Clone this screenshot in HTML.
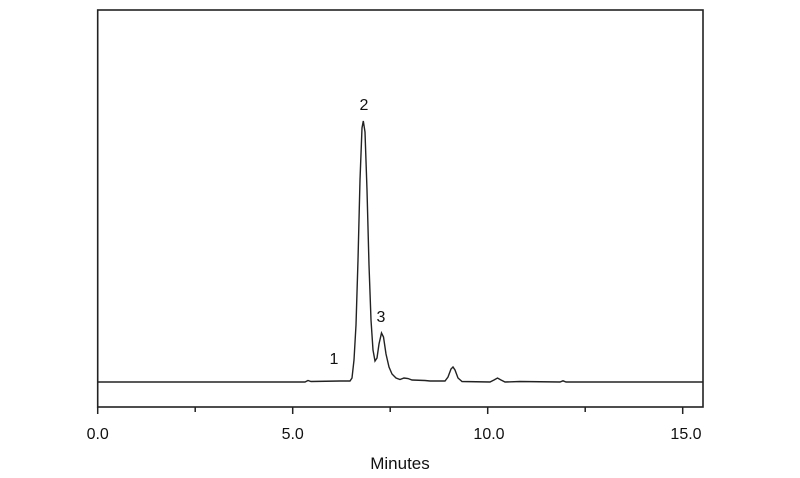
<!DOCTYPE html>
<html><head><meta charset="utf-8"><style>body{margin:0;background:#fff}svg{display:block}</style></head>
<body>
<svg width="800" height="478" viewBox="0 0 800 478" xmlns="http://www.w3.org/2000/svg">
<rect width="800" height="478" fill="#fff"/>
<rect x="97.7" y="10" width="605.3" height="397" fill="none" stroke="#222" stroke-width="1.6"/>
<g stroke="#222" stroke-width="1.5">
<line x1="97.7" y1="407" x2="97.7" y2="414"/>
<line x1="195.2" y1="407" x2="195.2" y2="412"/>
<line x1="292.7" y1="407" x2="292.7" y2="414"/>
<line x1="390.2" y1="407" x2="390.2" y2="412"/>
<line x1="487.7" y1="407" x2="487.7" y2="414"/>
<line x1="585.2" y1="407" x2="585.2" y2="412"/>
<line x1="682.7" y1="407" x2="682.7" y2="414"/>
</g>
<g font-family="Liberation Sans, sans-serif" font-size="16" fill="#111" text-anchor="middle">
<text x="97.7" y="439">0.0</text>
<text x="292.7" y="439">5.0</text>
<text x="489" y="439">10.0</text>
<text x="686" y="439">15.0</text>
<text x="400" y="469" font-size="17">Minutes</text>
<text x="364" y="110">2</text>
<text x="381" y="322">3</text>
<text x="334" y="364">1</text>
</g>
<path fill="none" stroke="#222" stroke-width="1.4" d="M97.7,382 L305,382 L308,380.5 L311,381.5 L340,381 L350,381 L352,378 L354,360 L356,325 L358,260 L360,180 L362,128 L363.3,121 L365,132 L367,190 L369,265 L371,320 L373,350 L375,361 L377,358 L379,344 L381.5,333 L383.5,337 L386,354 L389,367 L392,374 L396,378 L400,379.5 L404,378 L408,378.5 L412,380 L425,380.5 L430,381 L445,381 L448,377 L451,369 L453,367 L455,370 L458,378 L462,381.5 L490,382 L494,380 L497.5,378 L501,380 L505,382 L520,381.5 L560,382 L563,380.8 L566,382 L703,382"/>
</svg>
</body></html>
